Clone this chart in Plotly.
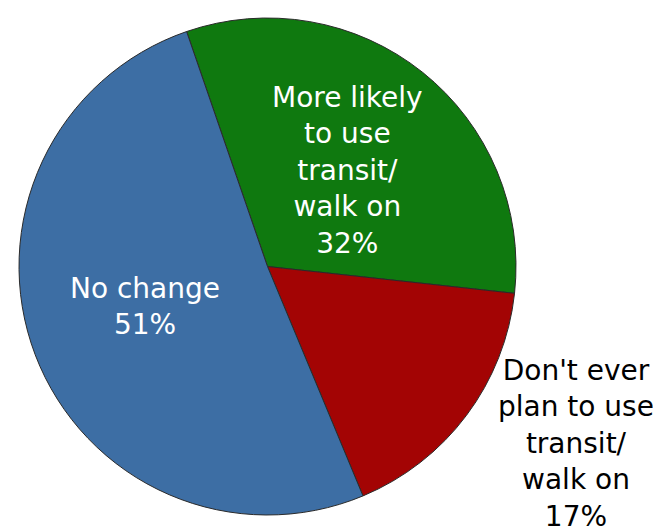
import plotly.graph_objects as go

categories = ["More likely to use transit/ walk on", "Don't ever plan to use transit/ walk on", "No change"]
values = [32, 17, 51]
label_texts = ["More likely<br>to use<br>transit/<br>walk on<br>32%",
               "Don't ever<br>plan to use<br>transit/<br>walk on<br>17%",
               "No change<br>51%"]
colors = ["#0F790F", "#A30404", "#3D6EA4"]

W, H = 661, 528
OFF = 8  # page body margin compensation

fig = go.Figure(go.Pie(
    labels=categories, values=values, sort=False, direction="clockwise",
    rotation=-19, textinfo="none", hoverinfo="label+percent",
    marker=dict(colors=colors, line=dict(color="#2a2a2a", width=1)),
    domain=dict(x=[(12 - OFF) / W, (523 - OFF) / W],
                y=[1 - (515 - OFF) / H, 1 - (18 - OFF) / H]),
    showlegend=False,
))

font_family = "DejaVu Sans, sans-serif"
label_pos = [(347, 170, "white"), (576, 443, "black"), (145, 306, "white")]
for txt, (px, py, col) in zip(label_texts, label_pos):
    fig.add_annotation(x=(px - OFF) / W, y=1 - (py - OFF) / H, xref="paper", yref="paper",
                       text=txt, showarrow=False, xanchor="center", yanchor="middle",
                       font=dict(family=font_family, size=28, color=col))

fig.update_layout(width=W, height=H, margin=dict(l=0, r=0, t=0, b=0),
                  paper_bgcolor="white", plot_bgcolor="white")
fig.write_html("out.html")
